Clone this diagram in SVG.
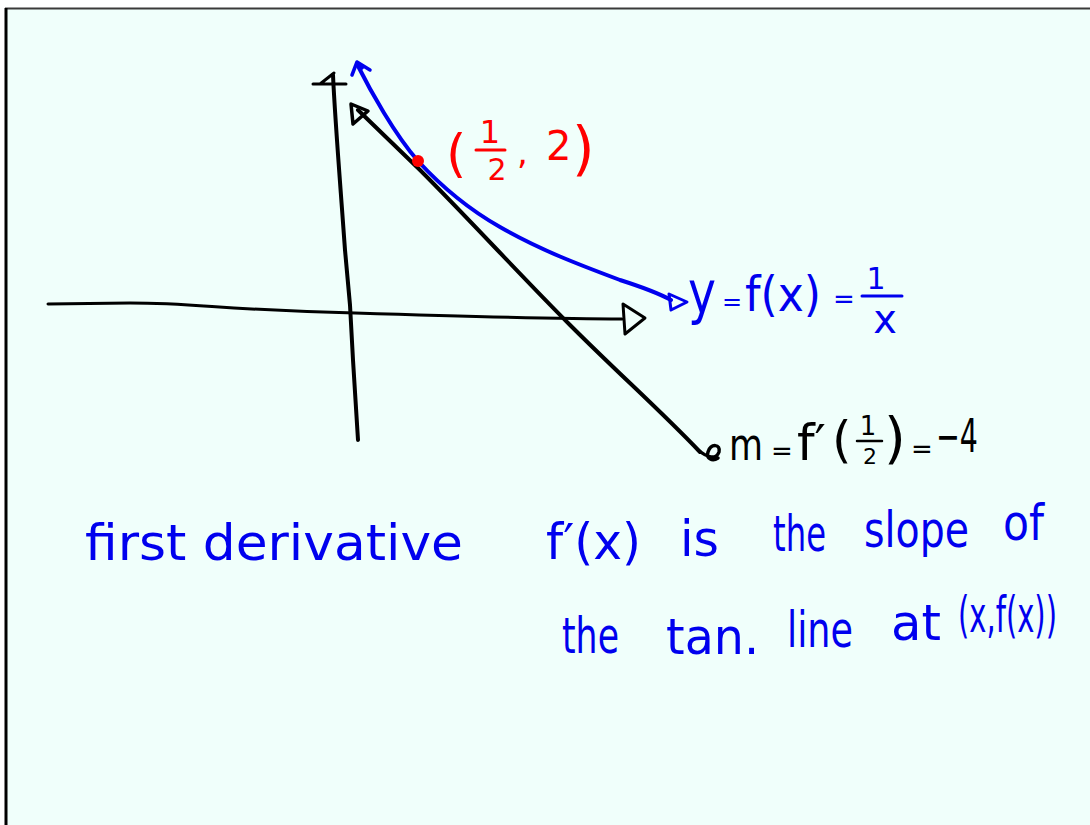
<svg xmlns="http://www.w3.org/2000/svg" width="1090" height="825" viewBox="0 0 1090 825">
<style>
.k{fill:none;stroke:#000;stroke-width:4;stroke-linecap:round;stroke-linejoin:round}
.b{fill:none;stroke:#0000ee;stroke-width:4;stroke-linecap:round;stroke-linejoin:round}
.r{fill:none;stroke:#ff0000;stroke-width:3;stroke-linecap:round}
.t{font-family:"DejaVu Sans","Liberation Sans",sans-serif}
.c{font-family:"DejaVu Sans","Liberation Sans",sans-serif;font-size:50px;fill:#0000ee}
.tb{fill:#0000ee}
.tr{fill:#ff0000}
.tk{fill:#000}
</style>
<rect x="0" y="0" width="1090" height="825" fill="#ffffff"/>
<rect x="6" y="8" width="1084" height="817" fill="#f0fffb"/>
<g id="frame">
<line x1="5" y1="8.5" x2="1090" y2="8.5" stroke="#3a3a3a" stroke-width="2"/>
<line x1="6" y1="8" x2="6" y2="825" stroke="#000" stroke-width="3"/>
</g>
<g id="axes">
<path class="k" style="stroke-width:3" d="M48,304 L130,303 C200,303 220,310 355,313 C450,316 550,319 622,319"/>
<path class="k" style="stroke-width:3" d="M623,304 L645,318 L625,334 Z"/>
<path class="k" d="M333,75 C335,120 340,180 345,250 L350,305 L353,360 L358,440"/>
<path class="k" style="stroke-width:3" d="M313,84 L346,84 M320,84 L334,73"/>
</g>
<g id="tangent">
<path class="k" d="M358,110 L420,170 C470,220 520,275 570,325 C620,375 660,410 700,452"/>
<path class="k" style="stroke-width:3.5" d="M351,104 L368,111 L353,124 Z"/>
<path class="k" style="stroke-width:3.5" d="M698,450 C708,458 716,460 719,452 C721,444 711,443 708,452 C706,458 712,462 718,458"/>
</g>
<g id="curve">
<path class="b" d="M358,66 C370,90 395,135 418,161 C440,185 470,210 500,227 C540,250 580,265 620,280 C645,288 660,294 671,300"/>
<path class="b" style="stroke-width:3" d="M669,294 L687,302 L671,310 Z"/>
<path class="b" style="stroke-width:3.5" d="M352,75 L357,62 L370,70 M357,62 L362,68"/>
</g>
<g id="point">
<circle cx="418" cy="161" r="6" fill="#ff0000"/>
<text class="t tr" x="446" y="171" font-size="52">(</text>
<text class="t tr" x="490" y="143" font-size="32" text-anchor="middle">1</text>
<line class="r" x1="476" y1="150" x2="505" y2="150"/>
<text class="t tr" x="497" y="180" font-size="30" text-anchor="middle">2</text>
<text class="t tr" x="517" y="164" font-size="34">,</text>
<text class="t tr" x="546" y="160" font-size="40">2</text>
<text class="t tr" x="572" y="169" font-size="58">)</text>
</g>
<g id="label-f">
<text class="t tb" x="688" y="313" font-size="58" textLength="28" lengthAdjust="spacingAndGlyphs">y</text>
<text class="t tb" x="722" y="310" font-size="24">=</text>
<text class="t tb" x="745" y="311" font-size="48" textLength="76" lengthAdjust="spacingAndGlyphs">f(x)</text>
<text class="t tb" x="833" y="308" font-size="26">=</text>
<text class="t tb" x="876" y="289" font-size="30" text-anchor="middle">1</text>
<line class="b" style="stroke-width:3" x1="862" y1="296" x2="902" y2="296"/>
<text class="t tb" x="885" y="333" font-size="40" text-anchor="middle">x</text>
</g>
<g id="label-m">
<text class="t tk" x="729" y="460" font-size="44" textLength="34" lengthAdjust="spacingAndGlyphs">m</text>
<text class="t tk" x="771" y="460" font-size="26">=</text>
<text class="t tk" x="797" y="460" font-size="50">f′</text>
<text class="t tk" x="832" y="457" font-size="50">(</text>
<text class="t tk" x="868" y="435" font-size="26" text-anchor="middle">1</text>
<line class="k" style="stroke-width:2.5" x1="857" y1="441" x2="882" y2="441"/>
<text class="t tk" x="870" y="464" font-size="22" text-anchor="middle">2</text>
<text class="t tk" x="884" y="457" font-size="56">)</text>
<text class="t tk" x="911" y="458" font-size="26">=</text>
<text class="t tk" x="936" y="452" font-size="46" textLength="42" lengthAdjust="spacingAndGlyphs">−4</text>
</g>
<g id="caption">
<text class="c" x="85" y="560" textLength="378" lengthAdjust="spacingAndGlyphs">first derivative</text>
<text class="c" x="546" y="559" textLength="95" lengthAdjust="spacingAndGlyphs">f′(x)</text>
<text class="c" x="680" y="556" textLength="39" lengthAdjust="spacingAndGlyphs">is</text>
<text class="c" x="773" y="551" textLength="53" lengthAdjust="spacingAndGlyphs">the</text>
<text class="c" x="864" y="547" textLength="105" lengthAdjust="spacingAndGlyphs">slope</text>
<text class="c" x="1003" y="540" textLength="41" lengthAdjust="spacingAndGlyphs">of</text>
<text class="c" x="562" y="653" textLength="57" lengthAdjust="spacingAndGlyphs">the</text>
<text class="c" x="666" y="654" textLength="93" lengthAdjust="spacingAndGlyphs">tan.</text>
<text class="c" x="787" y="647" textLength="66" lengthAdjust="spacingAndGlyphs">line</text>
<text class="c" x="891" y="640" textLength="50" lengthAdjust="spacingAndGlyphs">at</text>
<text class="c" transform="translate(958,632) scale(0.58,1)" x="0" y="0">(x,f(x))</text>
</g>
</svg>
